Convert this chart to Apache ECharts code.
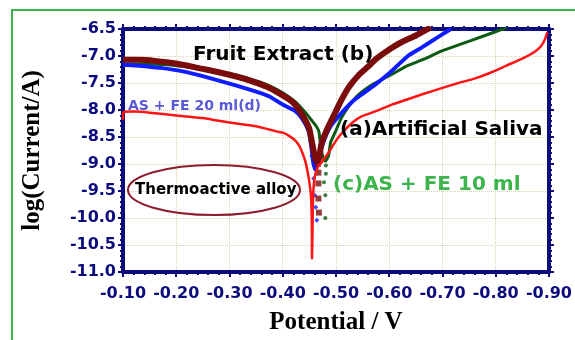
<!DOCTYPE html>
<html><head><meta charset="utf-8">
<script src="https://cdn.jsdelivr.net/npm/echarts@6/dist/echarts.min.js"></script>
<style>html,body{margin:0;padding:0;background:#fff}#c{width:575px;height:340px}</style>
</head><body><div id="c"></div>
<script>
// ---- tick values ----
const potentialTicks = [-0.90,-0.80,-0.70,-0.60,-0.50,-0.40,-0.30,-0.20,-0.10];
const logCurrentTicks = [-11.0,-10.5,-10.0,-9.5,-9.0,-8.5,-8.0,-7.5,-7.0,-6.5];

// ---- series names ----
const seriesNames = ['Thermoactive alloy in AS (a)','Fruit Extract (b)','AS + FE 10 ml (c)','AS + FE 20 ml (d)'];

// ---- curves: [potential V, log(Current/A)] ----
const thermoactive = [[-0.100,-8.18],[-0.101,-8.04],[-0.12,-8.03],[-0.15,-8.05],[-0.20,-8.10],[-0.25,-8.15],[-0.28,-8.20],[-0.32,-8.26],[-0.35,-8.30],[-0.37,-8.35],[-0.39,-8.40],[-0.40,-8.42],[-0.412,-8.48],[-0.425,-8.58],[-0.432,-8.68],[-0.438,-8.82],[-0.443,-8.97],[-0.449,-9.27],[-0.453,-9.58],[-0.4545,-10.0],[-0.455,-10.75],[-0.456,-10.2],[-0.457,-9.6],[-0.460,-9.25],[-0.466,-9.05],[-0.473,-8.97],[-0.486,-8.79],[-0.498,-8.6],[-0.510,-8.44],[-0.53,-8.24],[-0.548,-8.12],[-0.575,-8.02],[-0.605,-7.90],[-0.635,-7.80],[-0.665,-7.70],[-0.697,-7.60],[-0.73,-7.50],[-0.76,-7.42],[-0.79,-7.31],[-0.822,-7.17],[-0.85,-7.05],[-0.872,-6.93],[-0.885,-6.82],[-0.893,-6.68],[-0.897,-6.56]];

const fruitExtract = [[-0.100,-7.07],[-0.13,-7.07],[-0.16,-7.09],[-0.20,-7.14],[-0.245,-7.23],[-0.28,-7.30],[-0.313,-7.38],[-0.34,-7.46],[-0.37,-7.57],[-0.395,-7.70],[-0.417,-7.84],[-0.43,-7.99],[-0.443,-8.20],[-0.45,-8.35],[-0.455,-8.60],[-0.459,-8.80],[-0.463,-8.95],[-0.468,-8.90],[-0.472,-8.66],[-0.478,-8.48],[-0.486,-8.30],[-0.496,-8.10],[-0.51,-7.82],[-0.524,-7.58],[-0.542,-7.36],[-0.56,-7.20],[-0.576,-7.05],[-0.60,-6.88],[-0.622,-6.75],[-0.65,-6.62],[-0.678,-6.47]];
const fruitExtractDip = [[-0.466,-9.00],[-0.467,-9.16],[-0.467,-9.36],[-0.467,-9.64],[-0.468,-9.90]];

const asFe10 = [[-0.100,-7.15],[-0.14,-7.15],[-0.18,-7.16],[-0.22,-7.20],[-0.26,-7.26],[-0.30,-7.33],[-0.34,-7.43],[-0.37,-7.53],[-0.40,-7.68],[-0.425,-7.86],[-0.44,-8.02],[-0.455,-8.20],[-0.463,-8.30],[-0.468,-8.40],[-0.471,-8.65],[-0.475,-8.85],[-0.480,-8.95],[-0.486,-8.85],[-0.49,-8.60],[-0.50,-8.38],[-0.51,-8.15],[-0.525,-7.92],[-0.542,-7.72],[-0.57,-7.52],[-0.603,-7.35],[-0.63,-7.20],[-0.665,-7.06],[-0.70,-6.90],[-0.729,-6.80],[-0.78,-6.62],[-0.822,-6.47]];
const asFe10Dip = [[-0.482,-8.88],[-0.481,-9.03],[-0.481,-9.18],[-0.4775,-9.34],[-0.480,-9.58],[-0.480,-10.00]];

const asFe20 = [[-0.100,-7.16],[-0.13,-7.18],[-0.17,-7.22],[-0.21,-7.28],[-0.26,-7.40],[-0.31,-7.54],[-0.35,-7.66],[-0.375,-7.75],[-0.40,-7.90],[-0.425,-8.03],[-0.437,-8.17],[-0.449,-8.40],[-0.454,-8.70],[-0.457,-8.95],[-0.461,-9.10],[-0.466,-9.00],[-0.47,-8.80],[-0.478,-8.55],[-0.49,-8.30],[-0.51,-8.06],[-0.53,-7.85],[-0.55,-7.70],[-0.575,-7.52],[-0.60,-7.32],[-0.635,-7.00],[-0.66,-6.85],[-0.69,-6.66],[-0.716,-6.50]];
const asFe20Dip = [[-0.4545,-8.85],[-0.458,-9.27],[-0.460,-9.58],[-0.462,-9.80],[-0.464,-10.04]];

// ---- annotation texts ----
const annotationTexts = ['Fruit Extract (b)','AS + FE 20 ml(d)','(a)Artificial Saliva','(c)AS + FE 10 ml','Thermoactive alloy'];
const axisTitles = ['Potential / V','log(Current/A)'];

const NAVY = '#0c0c7c';
const tickFont = {color: NAVY, fontFamily: 'DejaVu Sans', fontWeight: 'bold', fontSize: 16};
const titleFont = {color: '#000', fontFamily: 'Liberation Serif', fontWeight: 'bold', fontSize: 25};

function baseAxis(extra) {
  return Object.assign({
    type: 'value',
    axisLine: {show: true, onZero: false, lineStyle: {color: NAVY, width: 4}},
    axisTick: {show: true, inside: false, length: 5, lineStyle: {color: NAVY, width: 2}},
    minorTick: {show: true, splitNumber: 5, length: 3, lineStyle: {color: NAVY, width: 2}},
    splitLine: {show: false},
    minorSplitLine: {show: false}
  }, extra);
}
const xMin = Math.min(...potentialTicks), xMax = Math.max(...potentialTicks);
const yMin = Math.min(...logCurrentTicks), yMax = Math.max(...logCurrentTicks);
const xInt = +(potentialTicks[1] - potentialTicks[0]).toFixed(4);
const yInt = +(logCurrentTicks[1] - logCurrentTicks[0]).toFixed(4);

const lineCommon = {type: 'line', showSymbol: false, smooth: 0.15};

const chart = echarts.init(document.getElementById('c'), null, {renderer: 'canvas'});
const option = {
  animation: false,
  backgroundColor: '#fff',
  grid: {left: 123, right: 23, top: 29, bottom: 65, containLabel: false},
  xAxis: [
    baseAxis({min: xMin, max: xMax, interval: xInt, inverse: true, position: 'bottom',
      name: axisTitles[0], nameLocation: 'middle', nameGap: 38, nameTextStyle: titleFont,
      axisLabel: Object.assign({margin: 14, formatter: v => v.toFixed(2)}, tickFont),
      splitLine: {show: true, lineStyle: {color: '#d9d4ae', type: 'dotted', width: 1}}}),
    baseAxis({min: xMin, max: xMax, interval: xInt, inverse: true, position: 'top',
      axisLabel: {show: false}})
  ],
  yAxis: [
    baseAxis({min: yMin, max: yMax, interval: yInt, position: 'left',
      name: axisTitles[1], nameLocation: 'middle', nameGap: 78, nameRotate: 90, nameTextStyle: titleFont,
      axisLabel: Object.assign({margin: 7, formatter: v => v.toFixed(1)}, tickFont),
      splitLine: {show: true, lineStyle: {color: '#d9d4ae', type: 'dotted', width: 1}}}),
    baseAxis({min: yMin, max: yMax, interval: yInt, position: 'right',
      axisLabel: {show: false}})
  ],
  series: [
    Object.assign({name: seriesNames[2], data: asFe10, lineStyle: {color: '#0b5a12', width: 3}, z: 2}, lineCommon),
    {name: seriesNames[2] + ' dip', type: 'scatter', data: asFe10Dip, symbol: 'circle', symbolSize: 4, itemStyle: {color: '#0b5a12'}, z: 2},
    Object.assign({name: seriesNames[3], data: asFe20, lineStyle: {color: '#0f1cff', width: 4}, z: 3}, lineCommon),
    {name: seriesNames[3] + ' dip', type: 'scatter', data: asFe20Dip, symbol: 'diamond', symbolSize: 5, itemStyle: {color: '#0f1cff'}, z: 3},
    Object.assign({name: seriesNames[1], data: fruitExtract, lineStyle: {color: '#7a0c0c', width: 6}, z: 4}, lineCommon),
    {name: seriesNames[1] + ' dip', type: 'scatter', data: fruitExtractDip, symbol: 'rect', symbolSize: 6, itemStyle: {color: '#7a0c0c'}, z: 4},
    Object.assign({name: seriesNames[0], data: thermoactive, lineStyle: {color: '#ff1414', width: 2.5}, z: 5}, lineCommon)
  ],
  graphic: [
    {type: 'rect', z: 0, shape: {x: 12, y: 10, width: 700, height: 500}, style: {fill: 'none', stroke: '#3cb44b', lineWidth: 2}, silent: true},
    {type: 'text', z: 100, x: 193, y: 55, style: {text: annotationTexts[0], fill: '#000', font: 'bold 20px "DejaVu Sans"', textVerticalAlign: 'middle', verticalAlign: 'middle'}},
    {type: 'text', z: 100, x: 128, y: 106, style: {text: annotationTexts[1], fill: '#5a5ad8', font: 'bold 14px "DejaVu Sans"', textVerticalAlign: 'middle', verticalAlign: 'middle'}},
    {type: 'text', z: 100, x: 340, y: 130, style: {text: annotationTexts[2], fill: '#000', font: 'bold 20px "DejaVu Sans"', textVerticalAlign: 'middle', verticalAlign: 'middle'}},
    {type: 'text', z: 100, x: 333, y: 185, style: {text: annotationTexts[3], fill: '#3cb44b', font: 'bold 20px "DejaVu Sans"', textVerticalAlign: 'middle', verticalAlign: 'middle'}},
    {type: 'ellipse', z: 100, shape: {cx: 214, cy: 190, rx: 86, ry: 25}, style: {fill: 'none', stroke: '#8b1c2c', lineWidth: 2}},
    {type: 'text', z: 101, x: 135, y: 190, style: {text: annotationTexts[4], fill: '#000', font: 'bold 15px "DejaVu Sans"', textVerticalAlign: 'middle', verticalAlign: 'middle'}}
  ]
};
chart.setOption(option);
</script></body></html>
